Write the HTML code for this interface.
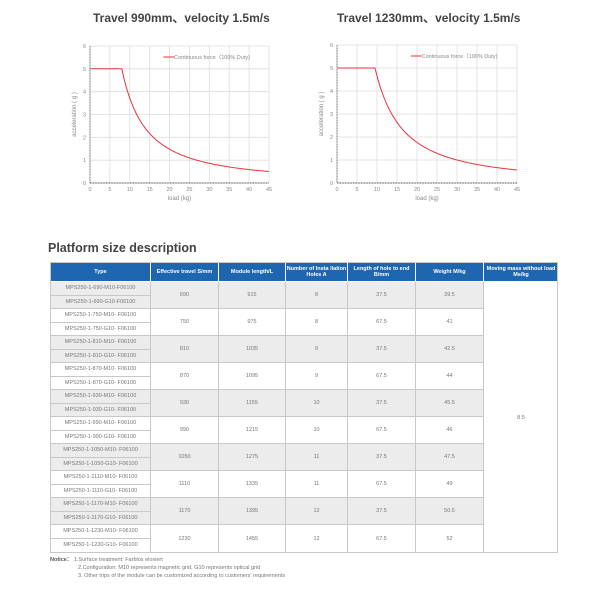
<!DOCTYPE html>
<html><head><meta charset="utf-8">
<style>
body{margin:0;width:600px;height:600px;background:#fff;font-family:"Liberation Sans",sans-serif;overflow:hidden;position:relative}
.t{position:absolute;font-weight:bold;color:#444;font-size:12px}
.tb{position:absolute;left:50px;top:262px;width:508px;height:291px;font-size:5.5px;color:#777;border:1px solid #c8c8c8;box-sizing:border-box;overflow:hidden}
.tb div{position:absolute;box-sizing:border-box;border-right:1px solid #c8c8c8;border-bottom:1px solid #c8c8c8;display:flex;align-items:center;justify-content:center;white-space:nowrap;overflow:hidden}
.tb .hd{top:0;height:19px;background:#1e66b0;color:#fff;font-weight:bold;border-color:#fff;white-space:normal;text-align:center;line-height:6px}
.tb .g{background:#ececec}
.c1{left:0;width:100px}.c2{left:100px;width:68px}.c3{left:168px;width:67px}.c4{left:235px;width:62px}.c5{left:297px;width:68px}.c6{left:365px;width:68px}.c7{left:433px;width:75px}
.s{height:13.5px}.d{height:27px}
.n{position:absolute;left:50px;top:556px;font-size:5.5px;color:#777;line-height:8px}
</style></head><body>
<div class="t" style="left:93px;top:9px">Travel 990mm、velocity 1.5m/s</div>
<div class="t" style="left:337px;top:9px">Travel 1230mm、velocity 1.5m/s</div>
<svg width="600" height="215" style="position:absolute;left:0;top:0" id="s" font-family="Liberation Sans" font-size="5.5" fill="#888"></svg>
<div style="position:absolute;left:48px;top:241px;font-size:12.5px;font-weight:bold;color:#444">Platform size description</div>
<div class="tb">
<div class="hd c1">Type</div><div class="hd c2">Effective travel S/mm</div><div class="hd c3">Module length/L</div><div class="hd c4">Number of Insta llation Holes A</div><div class="hd c5">Length of hole to end B/mm</div><div class="hd c6">Weight M/kg</div><div class="hd c7">Moving mass without load Ms/kg</div>
<div class="c7" style="top:19px;height:272px;border-bottom:none">8.5</div>

<div class="g s c1" style="top:19px">MPS250-1-690-M10-F06100</div><div class="g s c1" style="top:32.5px">MPS250-1-690-G10-F06100</div>
<div class="g d c2" style="top:19px">690</div><div class="g d c3" style="top:19px">915</div><div class="g d c4" style="top:19px">8</div><div class="g d c5" style="top:19px">37.5</div><div class="g d c6" style="top:19px">39.5</div>

<div class="s c1" style="top:46px">MPS250-1-750-M10- F06100</div><div class="s c1" style="top:59.5px">MPS250-1-750-G10- F06100</div>
<div class="d c2" style="top:46px">750</div><div class="d c3" style="top:46px">975</div><div class="d c4" style="top:46px">8</div><div class="d c5" style="top:46px">67.5</div><div class="d c6" style="top:46px">41</div>

<div class="g s c1" style="top:73px">MPS250-1-810-M10- F06100</div><div class="g s c1" style="top:86.5px">MPS250-1-810-G10- F06100</div>
<div class="g d c2" style="top:73px">810</div><div class="g d c3" style="top:73px">1035</div><div class="g d c4" style="top:73px">9</div><div class="g d c5" style="top:73px">37.5</div><div class="g d c6" style="top:73px">42.5</div>

<div class="s c1" style="top:100px">MPS250-1-870-M10- F06100</div><div class="s c1" style="top:113.5px">MPS250-1-870-G10- F06100</div>
<div class="d c2" style="top:100px">870</div><div class="d c3" style="top:100px">1095</div><div class="d c4" style="top:100px">9</div><div class="d c5" style="top:100px">67.5</div><div class="d c6" style="top:100px">44</div>

<div class="g s c1" style="top:127px">MPS250-1-930-M10- F06100</div><div class="g s c1" style="top:140.5px">MPS250-1-930-G10- F06100</div>
<div class="g d c2" style="top:127px">930</div><div class="g d c3" style="top:127px">1155</div><div class="g d c4" style="top:127px">10</div><div class="g d c5" style="top:127px">37.5</div><div class="g d c6" style="top:127px">45.5</div>

<div class="s c1" style="top:154px">MPS250-1-990-M10- F06100</div><div class="s c1" style="top:167.5px">MPS250-1-990-G10- F06100</div>
<div class="d c2" style="top:154px">990</div><div class="d c3" style="top:154px">1215</div><div class="d c4" style="top:154px">10</div><div class="d c5" style="top:154px">67.5</div><div class="d c6" style="top:154px">46</div>

<div class="g s c1" style="top:181px">MPS250-1-1050-M10- F06100</div><div class="g s c1" style="top:194.5px">MPS250-1-1050-G10- F06100</div>
<div class="g d c2" style="top:181px">1050</div><div class="g d c3" style="top:181px">1275</div><div class="g d c4" style="top:181px">11</div><div class="g d c5" style="top:181px">37.5</div><div class="g d c6" style="top:181px">47.5</div>

<div class="s c1" style="top:208px">MPS250-1-1110-M10- F06100</div><div class="s c1" style="top:221.5px">MPS250-1-1110-G10- F06100</div>
<div class="d c2" style="top:208px">1110</div><div class="d c3" style="top:208px">1335</div><div class="d c4" style="top:208px">11</div><div class="d c5" style="top:208px">67.5</div><div class="d c6" style="top:208px">49</div>

<div class="g s c1" style="top:235px">MPS250-1-1170-M10- F06100</div><div class="g s c1" style="top:248.5px">MPS250-1-1170-G10- F06100</div>
<div class="g d c2" style="top:235px">1170</div><div class="g d c3" style="top:235px">1395</div><div class="g d c4" style="top:235px">12</div><div class="g d c5" style="top:235px">37.5</div><div class="g d c6" style="top:235px">50.5</div>

<div class="s c1" style="top:262px">MPS250-1-1230-M10- F06100</div><div class="s c1" style="top:275.5px;border-bottom:none">MPS250-1-1230-G10- F06100</div>
<div class="d c2" style="top:262px;border-bottom:none">1230</div><div class="d c3" style="top:262px;border-bottom:none">1455</div><div class="d c4" style="top:262px;border-bottom:none">12</div><div class="d c5" style="top:262px;border-bottom:none">67.5</div><div class="d c6" style="top:262px;border-bottom:none">52</div>
</div>
<div class="n"><b style="color:#555">Notice：</b> 1.Surface treatment: Farblos eloxiert<br><span style="padding-left:28px">2.Configuration: M10 represents magnetic grid, G10 represents optical grid</span><br><span style="padding-left:28px">3. Other trips of the module can be customized according to customers' requirements</span></div>
<script>
var s=document.getElementById('s'),h='';
function chart(x0,x1,y0,y1,k,p){
 var w=x1-x0,u=(y1-y0)/6;
 for(var i=0;i<=9;i++){var x=x0+w*i/9;h+='<line x1="'+x+'" y1="'+y0+'" x2="'+x+'" y2="'+y1+'" stroke="#ddd" stroke-width="0.8"/>';h+='<text x="'+x+'" y="'+(y1+8)+'" text-anchor="middle">'+(i*5)+'</text>';}
 for(var j=0;j<=6;j++){var y=y1-u*j;h+='<line x1="'+x0+'" y1="'+y+'" x2="'+x1+'" y2="'+y+'" stroke="#ddd" stroke-width="0.8"/>';h+='<text x="'+(x0-4)+'" y="'+(y+2)+'" text-anchor="end">'+j+'</text>';}
 h+='<line x1="'+x0+'" y1="'+y0+'" x2="'+x0+'" y2="'+y1+'" stroke="#333" stroke-width="0.8" stroke-dasharray="0.8 0.8"/><line x1="'+x0+'" y1="'+y1+'" x2="'+x1+'" y2="'+y1+'" stroke="#333" stroke-width="1" stroke-dasharray="0.8 0.8"/>';
 var pts=[];for(var m=0;m<=45;m+=0.25){var a=m<=k?5:5*Math.pow(k/m,p);pts.push((x0+m*w/45).toFixed(1)+','+(y1-a*u).toFixed(1));}
 h+='<polyline points="'+pts.join(' ')+'" fill="none" stroke="#e8323c" stroke-width="1"/>';
 h+='<line x1="'+(x0+w*0.41)+'" y1="'+(y0+11)+'" x2="'+(x0+w*0.47)+'" y2="'+(y0+11)+'" stroke="#e8323c" stroke-width="1"/><text x="'+(x0+w*0.47)+'" y="'+(y0+13)+'">Continuous force（100% Duty)</text>';
 h+='<text x="'+((x0+x1)/2)+'" y="'+(y1+17)+'" text-anchor="middle" font-size="6">load  (kg)</text>';
 h+='<text transform="translate('+(x0-14)+','+((y0+y1)/2)+') rotate(-90)" text-anchor="middle" font-size="6">acceleration ( g )</text>';
}
chart(90,269,46,183,8,1.33);
chart(337,517,45,183,9.5,1.4);
s.innerHTML=h;
</script>
</body></html>
